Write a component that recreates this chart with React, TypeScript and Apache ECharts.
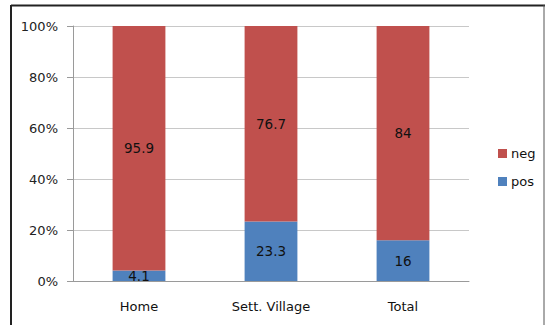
import React, { useEffect, useRef } from "react";
import * as echarts from "echarts";

const categories = ["Home", "Sett. Village", "Total"];
const negValues = [95.9, 76.7, 84];
const posValues = [4.1, 23.3, 16];

export default function App() {
  const ref = useRef<HTMLDivElement>(null);
  useEffect(() => {
    if (!ref.current) return;
    const chart = echarts.init(ref.current, null, { renderer: "svg" });
    const font = "DejaVu Sans";
    const label = {
      show: true,
      position: "inside",
      color: "#111",
      fontSize: 13.5,
      fontFamily: font,
    };
    chart.setOption({
      animation: false,
      backgroundColor: "#fff",
      grid: { left: 73, right: 77, top: 26, bottom: 44 },
      legend: {
        orient: "vertical",
        left: 493,
        top: 142,
        itemWidth: 9,
        itemHeight: 9,
        itemGap: 15,
        icon: "rect",
        data: ["neg", "pos"],
        textStyle: { fontFamily: font, fontSize: 13, color: "#111", padding: [0, 0, 0, -1] },
      },
      xAxis: {
        type: "category",
        data: categories,
        axisLine: { lineStyle: { color: "#9a9a9a" } },
        axisTick: { length: 6, lineStyle: { color: "#9a9a9a" } },
        axisLabel: { fontFamily: font, fontSize: 13, color: "#111", margin: 19 },
      },
      yAxis: {
        type: "value",
        min: 0,
        max: 100,
        interval: 20,
        axisLine: { show: true, lineStyle: { color: "#9a9a9a" } },
        axisTick: { show: true, length: 6, lineStyle: { color: "#9a9a9a" } },
        splitLine: { lineStyle: { color: "#c8c8c8" } },
        axisLabel: { formatter: "{value}%", fontFamily: font, fontSize: 13, color: "#222", margin: 15 },
      },
      series: [
        {
          name: "pos",
          type: "bar",
          stack: "s",
          data: posValues,
          barWidth: "40%",
          itemStyle: { color: "#4F81BD" },
          label,
        },
        {
          name: "neg",
          type: "bar",
          stack: "s",
          data: negValues,
          barWidth: "40%",
          itemStyle: { color: "#C0504D" },
          label,
        },
      ],
      graphic: [
        { type: "line", shape: { x1: 11, y1: 5.5, x2: 545, y2: 5.5 }, style: { stroke: "#222", lineWidth: 2 } },
        { type: "line", shape: { x1: 11, y1: 5, x2: 11, y2: 325 }, style: { stroke: "#222", lineWidth: 2 } },
        { type: "line", shape: { x1: 544, y1: 5, x2: 544, y2: 325 }, style: { stroke: "#555", lineWidth: 1 } },
      ],
    });
    return () => chart.dispose();
  }, []);
  return (
    <div
      ref={ref}
      style={{ position: "absolute", left: 0, top: 0, width: 546, height: 325 }}
    />
  );
}
